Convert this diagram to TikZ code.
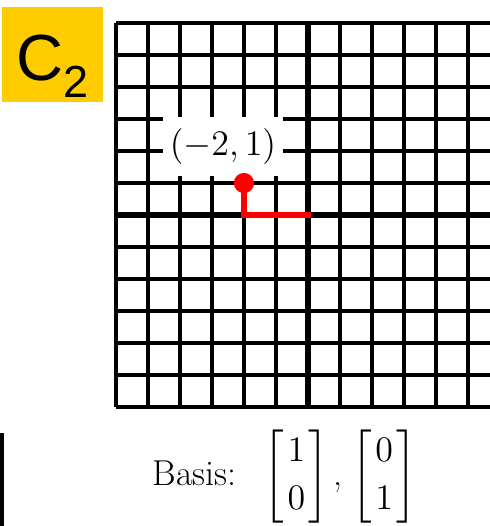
\RequirePackage{fix-cm}
\documentclass[tikz,border=0pt]{standalone}
\usepackage{fontspec}
\usepackage{amsmath}
\usepackage{xcolor}
\usepackage{tikz}
\newfontfamily\rotulofont{Liberation Sans}
\definecolor{amareloRotulo}{RGB}{255,204,0}
\definecolor{vermelhoVetor}{RGB}{255,0,0}
\newcommand{\vetcol}[2]{$\begin{bmatrix}\hspace{1.5pt}#1\hspace{1.5pt}\\\hspace{1.5pt}#2\hspace{1.5pt}\end{bmatrix}$}
\tikzset{
  grade/.style={line width=1.7pt, black, step=0.5cm},
  eixo/.style={line width=2.7pt, black},
  vetor/.style={line width=2.7pt, vermelhoVetor, line cap=rect},
  ponto/.style={circle, fill=vermelhoVetor, inner sep=0pt, minimum size=9pt},
  colchete/.style={line width=1.8pt, black},
  caixa/.style={rectangle, fill=amareloRotulo, inner sep=0pt,
                minimum width=44.9pt, minimum height=42.2pt,
                text height=30pt, text depth=7.2pt, font=\rotulofont},
  rotulo/.style={rectangle, fill=white, inner sep=0pt,
                 minimum width=53.3pt, minimum height=26.2pt,
                 font=\fontsize{16}{19}\selectfont},
  legenda/.style={inner sep=0pt, font=\fontsize{16}{21}\selectfont},
}
\begin{document}
\begin{tikzpicture}[x=0.5cm, y=0.5cm]
  \clip (-9.625,-9.72) rectangle (5.6875,6.72);
  % grade e eixos
  \draw[grade] (-6,-6) grid (6,6);
  \draw[eixo] (-6,0) -- (6,0);
  \draw[eixo] (0,-6) -- (0,6);
  \node[caixa] (c2) at (-7.984,5.016)
       {\fontsize{29}{29}\selectfont C\raisebox{-7.6pt}{\fontsize{20}{20}\selectfont 2}};
  \node[rotulo] (coord) at (-2.656,2.14) {$(-2,1)$};
  \coordinate (O) at (0,0);
  \node[ponto] (pt) at (-2,1) {};
  \draw[vetor] (O) -| (pt.center);
  \node[legenda] (base) at (-0.72,-8.16)
       {Basis:\hspace{12pt}\vetcol{1}{0}\hspace{2pt},\hspace{4pt}\vetcol{0}{1}};
  % resto do painel ao lado
  \draw[colchete] (-9.8,-6.875) -- (-9.5625,-6.875) -- (-9.5625,-9.6875) -- (-9.8,-9.6875);
\end{tikzpicture}
\end{document}
